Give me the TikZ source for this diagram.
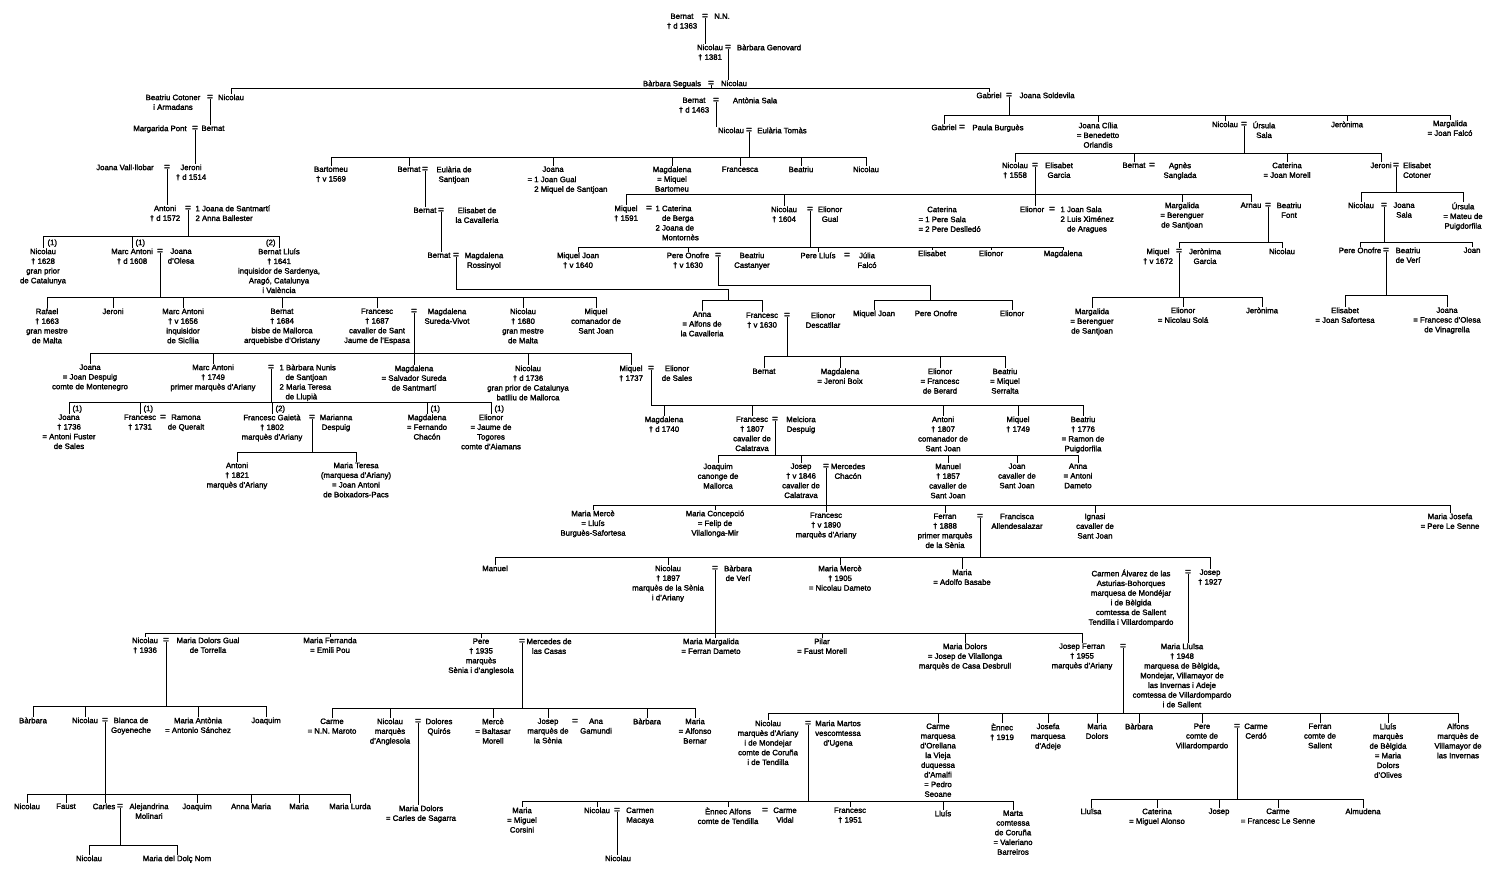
\documentclass[tikz,border=0pt]{standalone}
\usepackage{fontspec}
\setmainfont{Liberation Sans}[FakeBold=2]
\usepackage{tikz}
\newcommand\kinfont{\fontsize{7.8}{9.7}\selectfont}
\newcommand\eqdrop[2]{\draw ([yshift=1.8pt]#1.south) -- (#1.south |- 0,#2);}
\newcommand\eqto[2]{\draw ([yshift=1.8pt]#1.south) -- (#1.south |- #2.north);}
\newcommand\sibs[4]{\draw (#2.north |- 0,#1) -- (#3.north |- 0,#1);
  \foreach \ch in {#2,#3#4} {\draw (\ch.north) -- (\ch.north |- 0,#1);}}
\begin{document}
\begin{tikzpicture}[x=1pt,y=-1pt,line width=1pt,
  every node/.style={inner sep=0pt,anchor=north,align=center,font=\kinfont},
  eq/.style={font=\fontsize{10}{10}\selectfont,text height=5.4pt,text depth=0pt},
  note/.style={anchor=north west,align=left},
  nr/.style={anchor=north west}]
\useasboundingbox (0,0) rectangle (1500,889);

\node (bern13) at (682,13) {Bernat\\† d 1363};
\node[eq] (e13) at (705,13) {=};
\node (nn) at (722,13) {N.N.};
\node (nic81) at (710,44) {Nicolau\\† 1381};
\node[eq] (e81) at (728,44) {=};
\node (genov) at (769,44) {Bàrbara Genovard};
\node (segu) at (672,80) {Bàrbara Seguals};
\node[eq] (eseg) at (711,80) {=};
\node (nicseg) at (734,80) {Nicolau};
\eqto{e13}{nic81}
\eqto{e81}{nicseg}
\eqdrop{eseg}{88}

\node (cotoner) at (173,94) {Beatriu Cotoner\\i Armadans};
\node[eq] (ecot) at (210,94) {=};
\node (niccot) at (231,94) {Nicolau};
\node (bern63) at (694,97) {Bernat\\† d 1463};
\node[eq] (e63) at (716,97) {=};
\node (sala) at (755,97) {Antònia Sala};
\node (gab) at (989,92) {Gabriel};
\node[eq] (egab) at (1009,92) {=};
\node (solde) at (1047,92) {Joana Soldevila};
\sibs{88}{niccot}{gab}{}

\node (pont) at (160,125) {Margarida Pont};
\node[eq] (epont) at (195,125) {=};
\node (bernpont) at (213,125) {Bernat};
\eqto{ecot}{bernpont}
\node (nictomas) at (731,127) {Nicolau};
\node[eq] (etomas) at (749,127) {=};
\node (tomas) at (782,127) {Eulària Tomàs};
\eqto{e63}{nictomas}

\node (vall) at (125,164) {Joana Vall·llobar};
\node[eq] (evall) at (167,164) {=};
\node (jer14) at (191,164) {Jeroni\\† d 1514};
\eqto{epont}{jer14}
\node (ant72) at (165,205) {Antoni\\† d 1572};
\node[eq] (e72) at (188,205) {=};
\node[note] (santm) at (195,205) {1 Joana de Santmartí\\2 Anna Ballester};
\eqto{evall}{ant72}
\eqdrop{e72}{236}

\node (nic28) at (43,248) {Nicolau\\† 1628\\gran prior\\de Catalunya};
\node (ma08) at (132,248) {Marc Antoni\\† d 1608};
\node[eq] (e08) at (160,248) {=};
\node (olesa) at (181,248) {Joana\\d'Olesa};
\node (bl41) at (279,248) {Bernat Lluís\\† 1641\\inquisidor de Sardenya,\\Aragó, Catalunya\\i València};
\node[nr] (n28) at (47,239) {(1)};
\node[nr] (n08) at (135,239) {(1)};
\node[nr,anchor=north east] (n41) at (276,239) {(2)};
\sibs{236}{nic28}{bl41}{,ma08}
\eqdrop{e08}{297}

\node (raf) at (47,308) {Rafael\\† 1663\\gran mestre\\de Malta};
\node (jeroni) at (113,308) {Jeroni};
\node (ma56) at (183,308) {Marc Antoni\\† v 1656\\inquisidor\\de Sicília};
\node (bern84) at (282,308) {Bernat\\† 1684\\bisbe de Mallorca\\arquebisbe d'Oristany};
\node (fr87) at (377,308) {Francesc\\† 1687\\cavaller de Sant\\Jaume de l'Espasa};
\node[eq] (e87) at (414,308) {=};
\node (vivot) at (447,308) {Magdalena\\Sureda-Vivot};
\node (nic80) at (523,308) {Nicolau\\† 1680\\gran mestre\\de Malta};
\node (miqsj) at (596,308) {Miquel\\comanador de\\Sant Joan};
\sibs{297}{raf}{miqsj}{,jeroni,ma56,bern84,fr87,nic80}

\node (joanaJ) at (90,364) {Joana\\= Joan Despuig\\comte de Montenegro};
\node (ma49) at (213,364) {Marc Antoni\\† 1749\\primer marquès d'Ariany};
\node[eq] (e49) at (271,364) {=};
\node[note] (nunis) at (279,364) {1 Bàrbara Nunis\\\hspace*{6pt}de Santjoan\\2 Maria Teresa\\\hspace*{6pt}de Llupià};
\node (magsur) at (414,365) {Magdalena\\= Salvador Sureda\\de Santmartí};
\node (nic36) at (528,365) {Nicolau\\† d 1736\\gran prior de Catalunya\\batlliu de Mallorca};
\node (miq37) at (631,365) {Miquel\\† 1737};
\node[eq] (e37) at (651,365) {=};
\node (sales) at (677,365) {Elionor\\de Sales};
\sibs{353}{joanaJ}{miq37}{,ma49,nic36}
\eqto{e87}{magsur}
\eqdrop{e49}{402}

\node (joana36) at (69,414) {Joana\\† 1736\\= Antoni Fuster\\de Sales};
\node (fr31) at (140,414) {Francesc\\† 1731};
\node[eq] (e31) at (163,414) {=};
\node (queralt) at (186,414) {Ramona\\de Queralt};
\node (gaieta) at (272,414) {Francesc Gaietà\\† 1802\\marquès d'Ariany};
\node[eq] (e02) at (312,414) {=};
\node (despuig) at (336,414) {Marianna\\Despuig};
\node (magchac) at (427,414) {Magdalena\\= Fernando\\Chacón};
\node (eltog) at (491,414) {Elionor\\= Jaume de\\Togores\\comte d'Aiamans};
\node[nr] (n36) at (72,405) {(1)};
\node[nr] (n31) at (143,405) {(1)};
\node[nr] (n02) at (275,405) {(2)};
\node[nr] (nmag) at (430,405) {(1)};
\node[nr] (nel) at (494,405) {(1)};
\sibs{402}{joana36}{eltog}{,fr31,gaieta,magchac}
\eqdrop{e02}{452}

\node (ant21) at (237,462) {Antoni\\† 1821\\marquès d'Ariany};
\node (mteresa) at (356,462) {Maria Teresa\\(marquesa d'Ariany)\\= Joan Antoni\\de Boixadors-Pacs};
\sibs{452}{ant21}{mteresa}{}

\eqdrop{etomas}{157}
\node (bart) at (331,166) {Bartomeu\\† v 1569};
\node (bernsj) at (409,166) {Bernat};
\node[eq] (esj) at (425,166) {=};
\node (eulsj) at (454,166) {Eulària de\\Santjoan};
\node (joanag) at (553,166) {Joana};
\node[note] (gual) at (527,176) {= 1 Joan Gual\\\phantom{= }2 Miquel de Santjoan};
\node (magbar) at (672,166) {Magdalena\\= Miquel\\Bartomeu};
\node (fca) at (740,166) {Francesca};
\node (beatr) at (801,166) {Beatriu};
\node (nicol) at (866,166) {Nicolau};
\sibs{157}{bart}{nicol}{,bernsj,joanag,magbar,fca,beatr}

\node (berncav) at (425,207) {Bernat};
\node[eq] (ecav) at (441,207) {=};
\node (cav) at (477,207) {Elisabet de\\la Cavalleria};
\eqto{esj}{berncav}
\node (bernros) at (439,252) {Bernat};
\node[eq] (eros) at (456,252) {=};
\node (ross) at (484,252) {Magdalena\\Rossinyol};
\eqto{ecav}{bernros}
\coordinate (kros) at (728,289);
\draw ([yshift=1.8pt]eros.south) |- (kros) -- (kros |- 0,300);

\node (anna) at (702,311) {Anna\\= Alfons de\\la Cavalleria};
\node (fr30) at (762,312) {Francesc\\† v 1630};
\node[eq] (e30) at (787,312) {=};
\node (descat) at (823,312) {Elionor\\Descatllar};
\sibs{300}{anna}{fr30}{}
\eqdrop{e30}{356}
\node (bernJ) at (764,368) {Bernat};
\node (magboix) at (840,368) {Magdalena\\= Jeroni Boix};
\node (elber) at (940,368) {Elionor\\= Francesc\\de Berard};
\node (beaser) at (1005,368) {Beatriu\\= Miquel\\Serralta};
\sibs{356}{bernJ}{beaser}{,magboix,elber}

\node (mag40) at (664,416) {Magdalena\\† d 1740};
\node (fr07) at (752,416) {Francesc\\† 1807\\cavaller de\\Calatrava};
\node[eq] (e07) at (775,416) {=};
\node (melc) at (801,416) {Melciora\\Despuig};
\node (ant07) at (943,416) {Antoni\\† 1807\\comanador de\\Sant Joan};
\node (miq49) at (1018,416) {Miquel\\† 1749};
\node (bea76) at (1083,416) {Beatriu\\† 1776\\= Ramon de\\Puigdorfila};
\draw ([yshift=1.8pt]e37.south) |- (mag40.north |- 0,405);
\sibs{405}{mag40}{bea76}{,fr07,ant07,miq49}
\eqdrop{e07}{455}

\node (joaq) at (718,463) {Joaquim\\canonge de\\Mallorca};
\node (jos46) at (801,463) {Josep\\† v 1846\\cavaller de\\Calatrava};
\node[eq] (e46) at (826,463) {=};
\node (chacon) at (848,463) {Mercedes\\Chacón};
\node (man57) at (948,463) {Manuel\\† 1857\\cavaller de\\Sant Joan};
\node (joansj) at (1017,463) {Joan\\cavaller de\\Sant Joan};
\node (annad) at (1078,463) {Anna\\= Antoni\\Dameto};
\sibs{455}{joaq}{annad}{,jos46,man57,joansj}

\node (mmerce) at (593,510) {Maria Mercè\\= Lluís\\Burguès-Safortesa};
\node (mconc) at (715,510) {Maria Concepció\\= Felip de\\Vilallonga-Mir};
\node (fr90) at (826,512) {Francesc\\† v 1890\\marquès d'Ariany};
\node (fer88) at (945,513) {Ferran\\† 1888\\primer marquès\\de la Sènia};
\node[eq] (e88) at (980,513) {=};
\node (allen) at (1017,513) {Francisca\\Allendesalazar};
\node (ignasi) at (1095,513) {Ignasi\\cavaller de\\Sant Joan};
\node (mjosefa) at (1450,513) {Maria Josefa\\= Pere Le Senne};
\eqto{e46}{fr90}
\sibs{505}{mmerce}{mjosefa}{,mconc,fer88,ignasi}
\eqdrop{e88}{557}

\node (manuel) at (495,565) {Manuel};
\node (nic97) at (668,565) {Nicolau\\† 1897\\marquès de la Sènia\\i d'Ariany};
\node[eq] (e97) at (715,565) {=};
\node (veri) at (738,565) {Bàrbara\\de Verí};
\node (merce05) at (840,565) {Maria Mercè\\† 1905\\= Nicolau Dameto};
\node (mbasabe) at (962,569) {Maria\\= Adolfo Basabe};
\node (carmen) at (1131,569) {Carmen Álvarez de las\\Asturias-Bohorques\\marquesa de Mondéjar\\i de Bèlgida\\comtessa de Sallent\\Tendilla i Villardompardo};
\node[eq] (e27) at (1188,569) {=};
\node (jos27) at (1210,569) {Josep\\† 1927};
\sibs{557}{manuel}{jos27}{,nic97,merce05,mbasabe}

\node (nic36b) at (145,637) {Nicolau\\† 1936};
\node[eq] (e36) at (166,637) {=};
\node (gual36) at (208,637) {Maria Dolors Gual\\de Torrella};
\node (mferr) at (330,637) {Maria Ferranda\\= Emili Pou};
\node (pere35) at (481,638) {Pere\\† 1935\\marquès\\Sènia i d'anglesola};
\node[eq] (e35) at (522,638) {=};
\node (casas) at (549,638) {Mercedes de\\las Casas};
\node (mmarg) at (711,638) {Maria Margalida\\= Ferran Dameto};
\node (pilar) at (822,638) {Pilar\\= Faust Morell};
\node (mdolv) at (965,643) {Maria Dolors\\= Josep de Vilallonga\\marquès de Casa Desbrull};
\node (jf55) at (1082,643) {Josep Ferran\\† 1955\\marquès d'Ariany};
\node[eq] (e55) at (1123,643) {=};
\node (ml48) at (1182,643) {Maria Lluïsa\\† 1948\\marquesa de Bèlgida,\\Mondejar, Villamayor de\\las Invernas i Adeje\\comtessa de Villardompardo\\i de Sallent};
\eqto{e97}{mmarg}
\sibs{633}{nic36b}{jf55}{,mferr,pere35,pilar,mdolv}
\eqto{e27}{ml48}

\eqdrop{e36}{706}
\node (barbQ) at (33,717) {Bàrbara};
\node (nicQ) at (85,717) {Nicolau};
\node[eq] (eQ) at (105,717) {=};
\node (goy) at (131,717) {Blanca de\\Goyeneche};
\node (mant) at (198,717) {Maria Antònia\\= Antonio Sánchez};
\node (joaqQ) at (266,717) {Joaquim};
\sibs{706}{barbQ}{joaqQ}{,nicQ,mant}

\node (nicR) at (27,803) {Nicolau};
\node (faust) at (66,803) {Faust};
\node (carles) at (104,803) {Carles};
\node[eq] (eR) at (120,803) {=};
\node (molin) at (149,803) {Alejandrina\\Molinari};
\node (joaqR) at (197,803) {Joaquim};
\node (annam) at (251,803) {Anna Maria};
\node (mariaR) at (299,803) {Maria};
\node (lurda) at (350,803) {Maria Lurda};
\eqto{eQ}{carles}
\sibs{794}{nicR}{lurda}{,faust,joaqR,annam,mariaR}
\eqdrop{eR}{845}
\node (nicS) at (89,855) {Nicolau};
\node (dolc) at (177,855) {Maria del Dolç Nom};
\sibs{845}{nicS}{dolc}{}

\eqdrop{e35}{708}
\node (carmeT) at (332,718) {Carme\\= N.N. Maroto};
\node (nicT) at (390,718) {Nicolau\\marquès\\d'Anglesola};
\node[eq] (eT) at (418,718) {=};
\node (quiros) at (439,718) {Dolores\\Quirós};
\node (merce) at (493,718) {Mercè\\= Baltasar\\Morell};
\node (josT) at (548,718) {Josep\\marquès de\\la Sènia};
\node[eq] (eT2) at (575,718) {=};
\node (gamundi) at (596,718) {Ana\\Gamundi};
\node (barbT) at (647,718) {Bàrbara};
\node (mariaT) at (695,718) {Maria\\= Alfonso\\Bernar};
\sibs{708}{carmeT}{mariaT}{,nicT,merce,josT,barbT}
\node (mdS) at (421,805) {Maria Dolors\\= Carles de Sagarra};
\eqto{eT}{mdS}

\eqdrop{e55}{713}
\node (nicU) at (768,720) {Nicolau\\marquès d'Ariany\\i de Mondejar\\comte de Coruña\\i de Tendilla};
\node[eq] (eU) at (808,720) {=};
\node (martos) at (838,720) {Maria Martos\\vescomtessa\\d'Ugena};
\node (carmeU) at (938,723) {Carme\\marquesa\\d'Orellana\\la Vieja\\duquessa\\d'Amalfi\\= Pedro\\Seoane};
\node (ennec) at (1002,723) {Ènnec\\† 1919};
\node (josefa) at (1048,723) {Josefa\\marquesa\\d'Adeje};
\node (mdU) at (1097,723) {Maria\\Dolors};
\node (barbU) at (1139,723) {Bàrbara};
\node (pereU) at (1202,723) {Pere\\comte de\\Villardompardo};
\node[eq] (eU2) at (1237,723) {=};
\node (cerdo) at (1256,723) {Carme\\Cerdó};
\node (ferran) at (1320,723) {Ferran\\comte de\\Sallent};
\node (lluis) at (1388,723) {Lluís\\marquès\\de Bèlgida\\= Maria\\Dolors\\d'Olives};
\node (alfons) at (1458,723) {Alfons\\marquès de\\Villamayor de\\las Invernas};
\sibs{713}{nicU}{alfons}{,carmeU,ennec,josefa,mdU,barbU,pereU,ferran,lluis}

\eqdrop{eU}{801}
\node (mcors) at (522,807) {Maria\\= Miguel\\Corsini};
\node (nicV) at (597,807) {Nicolau};
\node[eq] (eV) at (617,807) {=};
\node (macaya) at (640,807) {Carmen\\Macaya};
\node (ennecA) at (728,807) {Ènnec Alfons\\comte de Tendilla};
\node[eq] (eV2) at (765,807) {=};
\node (vidal) at (785,807) {Carme\\Vidal};
\node (fr51) at (850,807) {Francesc\\† 1951};
\node (lluisV) at (943,810) {Lluís};
\node (marta) at (1013,810) {Marta\\comtessa\\de Coruña\\= Valeriano\\Barreiros};
\sibs{801}{mcors}{marta}{,nicV,ennecA,fr51,lluisV}
\node (nicW) at (618,855) {Nicolau};
\eqto{eV}{nicW}

\eqdrop{eU2}{799}
\node (lluisa) at (1091,808) {Lluïsa};
\node (cater) at (1157,808) {Caterina\\= Miguel Alonso};
\node (josW) at (1219,808) {Josep};
\node (carmeW) at (1278,808) {Carme\\= Francesc Le Senne};
\node (almud) at (1363,808) {Almudena};
\sibs{799}{lluisa}{almud}{,cater,josW,carmeW}

\eqdrop{egab}{115}
\node (gabX) at (944,124) {Gabriel};
\node[eq] (eX) at (962,124) {=};
\node (burg) at (998,124) {Paula Burguès};
\node (cilia) at (1098,122) {Joana Cília\\= Benedetto\\Orlandis};
\node (nicX) at (1225,121) {Nicolau};
\node[eq] (eX2) at (1244,121) {=};
\node (ursula) at (1264,121) {Úrsula\\Sala};
\node (jeron) at (1347,121) {Jerònima};
\node (margf) at (1450,120) {Margalida\\= Joan Falcó};
\sibs{115}{gabX}{margf}{,cilia,nicX,jeron}

\eqdrop{eX2}{153}
\node (nic58) at (1015,162) {Nicolau\\† 1558};
\node[eq] (e58) at (1035,162) {=};
\node (garcia) at (1059,162) {Elisabet\\Garcia};
\node (bernY) at (1134,162) {Bernat};
\node[eq] (eY) at (1152,162) {=};
\node (sangl) at (1180,162) {Agnès\\Sanglada};
\node (catmor) at (1287,162) {Caterina\\= Joan Morell};
\node (jerY) at (1381,162) {Jeroni};
\node[eq] (eY2) at (1396,162) {=};
\node (cotY) at (1417,162) {Elisabet\\Cotoner};
\sibs{153}{nic58}{jerY}{,bernY,catmor}

\node (miq91) at (626,205) {Miquel\\† 1591};
\node[eq] (e91) at (649,205) {=};
\node[note] (berga) at (655,205) {1 Caterina\\\phantom{1 }de Berga\\2 Joana de\\\phantom{2 }Montornès};
\node (nic04) at (784,206) {Nicolau\\† 1604};
\node[eq] (e04) at (810,206) {=};
\node (gualZ) at (830,206) {Elionor\\Gual};
\node (catZ) at (942,206) {Caterina};
\node[note] (desll) at (918,216) {= 1 Pere Sala\\= 2 Pere Deslledó};
\node (elZ) at (1032,206) {Elionor};
\node[eq] (eZ) at (1052,206) {=};
\node[note] (xim) at (1060,206) {1 Joan Sala\\2 Luis Ximénez\\\phantom{2 }de Aragues};
\node (margZ) at (1182,202) {Margalida\\= Berenguer\\de Santjoan};
\node (arnau) at (1251,202) {Arnau};
\node[eq] (eZ2) at (1268,202) {=};
\node (font) at (1289,202) {Beatriu\\Font};
\eqto{e58}{elZ}
\sibs{194}{miq91}{arnau}{,nic04,margZ}

\eqdrop{e04}{247}
\node (mj40) at (578,252) {Miquel Joan\\† v 1640};
\node (po30) at (688,252) {Pere Onofre\\† v 1630};
\node[eq] (epo) at (718,252) {=};
\node (castan) at (752,252) {Beatriu\\Castanyer};
\node (pl) at (818,252) {Pere Lluís};
\node[eq] (epl) at (847,252) {=};
\node (falco) at (867,252) {Júlia\\Falcó};
\node (elisAA) at (932,250) {Elisabet};
\node (elAA) at (991,250) {Elionor};
\node (magAA) at (1063,250) {Magdalena};
\sibs{247}{mj40}{magAA}{,po30,pl,elisAA,elAA}
\coordinate (kpo) at (930,285);
\draw ([yshift=1.8pt]epo.south) |- (kpo) -- (kpo |- 0,300);
\node (mjAB) at (874,310) {Miquel Joan};
\node (poAB) at (936,310) {Pere Onofre};
\node (elAB) at (1012,310) {Elionor};
\sibs{300}{mjAB}{elAB}{}

\eqdrop{eZ2}{242}
\node (miq72) at (1158,248) {Miquel\\† v 1672};
\node[eq] (e72b) at (1179,248) {=};
\node (jergar) at (1205,248) {Jerònima\\Garcia};
\node (nicAC) at (1282,248) {Nicolau};
\sibs{242}{e72b}{nicAC}{}
\eqdrop{e72b}{297}
\node (margAD) at (1092,308) {Margalida\\= Berenguer\\de Santjoan};
\node (elsola) at (1183,307) {Elionor\\= Nicolau Solá};
\node (jerAD) at (1262,307) {Jerònima};
\sibs{297}{margAD}{jerAD}{,elsola}

\eqdrop{eY2}{192}
\node (nicAE) at (1361,202) {Nicolau};
\node[eq] (eAE) at (1384,202) {=};
\node (joanas) at (1404,202) {Joana\\Sala};
\node (ursAE) at (1463,202) {Úrsula\\= Mateu de\\Puigdorfila};
\sibs{192}{nicAE}{ursAE}{}
\eqdrop{eAE}{242}
\node (poAF) at (1360,247) {Pere Onofre};
\node[eq] (eAF) at (1386,247) {=};
\node (veriAF) at (1408,247) {Beatriu\\de Verí};
\node (joanAF) at (1472,247) {Joan};
\sibs{242}{poAF}{joanAF}{}
\eqdrop{eAF}{295}
\node (elsaf) at (1345,307) {Elisabet\\= Joan Safortesa};
\node (joanaAG) at (1447,307) {Joana\\= Francesc d'Olesa\\de Vinagrella};
\sibs{295}{elsaf}{joanaAG}{}
\end{tikzpicture}
\end{document}
